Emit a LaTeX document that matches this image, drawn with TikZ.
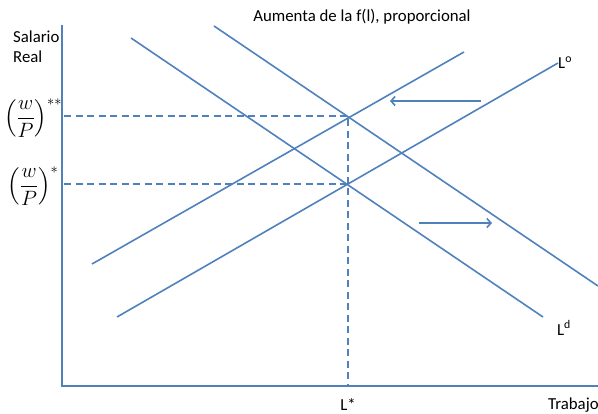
\documentclass[tikz,border=0pt]{standalone}
\usepackage{amsmath}
\usepackage{fontspec}
\setmainfont{Carlito}
\usepackage{tikz}
\usetikzlibrary{arrows.meta,positioning}
\definecolor{curveblue}{RGB}{79,129,189}

\begin{document}
\begin{tikzpicture}[x=1pt, y=-1pt, font=\fontsize{16.8}{20}\selectfont,
	curve/.style={draw=curveblue, line width=1.6pt},
	guide/.style={draw=curveblue, line width=1.6pt, dash pattern=on 7pt off 4.5pt},
	shiftarrow/.style={draw=curveblue, line width=1.6pt, -{Straight Barb[length=4pt, width=9pt]}},
	ratio/.style={font=\fontsize{21}{24}\selectfont}]
	\useasboundingbox (0,0) rectangle (598,414);

	% axes
	\coordinate (yaxis) at (62,25);
	\coordinate (origin) at (62,386);
	\coordinate (xaxis) at (598,386);
	\draw[curve] (yaxis) -- (origin) -- (xaxis);

	% curves
	\coordinate (ldlow1) at (131,38);
	\coordinate (ldlow2) at (543,317);
	\coordinate (ldhigh1) at (214,26);
	\coordinate (ldhigh2) at (598,286);
	\coordinate (lolow1) at (117,317);
	\coordinate (lolow2) at (558,63);
	\coordinate (lohigh1) at (92,264);
	\coordinate (lohigh2) at (464,52);
	\draw[curve] (ldlow1) -- (ldlow2);
	\draw[curve] (ldhigh1) -- (ldhigh2);
	\draw[curve] (lolow1) -- (lolow2);
	\draw[curve] (lohigh1) -- (lohigh2);

	% equilibria
	\coordinate (eqhigh) at (348,116);
	\coordinate (eqlow) at (348,184);
	\coordinate (wphigh) at (64,116);
	\coordinate (wplow) at (64,184);
	\coordinate (lstar) at (348,386);
	\draw[guide] (wphigh) -- (eqhigh) -- (lstar);
	\draw[guide] (wplow) -- (eqlow);

	% shifts
	\coordinate (shiftl1) at (481,101);
	\coordinate (shiftl2) at (390,101);
	\coordinate (shiftr1) at (419,223);
	\coordinate (shiftr2) at (492,223);
	\draw[shiftarrow] (shiftl1) -- (shiftl2);
	\draw[shiftarrow] (shiftr1) -- (shiftr2);

	% labels
	\node (title) at (362,17) {Aumenta de la f(l), proporcional};
	\node[align=left, anchor=north west, inner sep=0pt] (salario) at (13,31) {Salario\\Real};
	\node[ratio] (wpstarstar) at (33,118) {$\left(\dfrac{w}{P}\right)^{**}$};
	\node[ratio] (wpstar) at (33,186) {$\left(\dfrac{w}{P}\right)^{*}$};
	\node[anchor=west, inner sep=0pt] (lolabel) at (lolow2) {L\textsuperscript{o}};
	\node (ldlabel) at (564,328) {L\textsuperscript{d}};
	\node (lstarlabel) at (348,405) {L*};
	\node[anchor=west, inner sep=0pt] (trabajo) at (548,405) {Trabajo};
\end{tikzpicture}
\end{document}
